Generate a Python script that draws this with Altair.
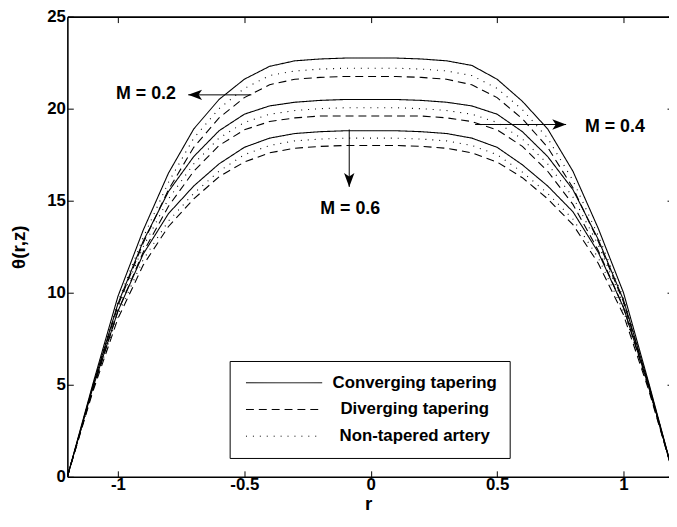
import altair as alt
import pandas as pd

R = [-1.2, -1.1, -1.0, -0.9, -0.8, -0.7, -0.6, -0.5, -0.4, -0.3, -0.2, -0.1, 0.0,
     0.1, 0.2, 0.3, 0.4, 0.5, 0.6, 0.7, 0.8, 0.9, 1.0, 1.1, 1.2]

conv02 = [0, 5.0, 9.8, 13.4, 16.5, 18.9, 20.5, 21.6, 22.3, 22.6, 22.7, 22.75, 22.75,
          22.75, 22.7, 22.6, 22.35, 21.6, 20.4, 18.9, 16.6, 13.5, 10.0, 5.1, 0]
non02 = [0, 4.9, 9.5, 13.0, 16.0, 18.4, 20.0, 21.1, 21.8, 22.05, 22.15, 22.2, 22.2,
         22.2, 22.15, 22.05, 21.8, 21.1, 19.95, 18.4, 16.1, 13.1, 9.7, 5.0, 0]
div02 = [0, 4.8, 9.3, 12.7, 15.6, 17.9, 19.5, 20.6, 21.3, 21.6, 21.7, 21.75, 21.75,
         21.75, 21.7, 21.6, 21.3, 20.6, 19.45, 17.9, 15.7, 12.8, 9.5, 4.9, 0]

conv04 = [0, 4.9, 9.4, 12.8, 15.5, 17.4, 18.8, 19.7, 20.15, 20.35, 20.45, 20.5, 20.5,
          20.5, 20.45, 20.35, 20.15, 19.7, 18.75, 17.4, 15.6, 12.9, 9.6, 5.0, 0]
non04 = [0, 4.8, 9.2, 12.5, 15.1, 17.0, 18.4, 19.25, 19.7, 19.9, 20.0, 20.05, 20.05,
         20.05, 20.0, 19.9, 19.7, 19.25, 18.35, 17.0, 15.2, 12.6, 9.4, 4.9, 0]
div04 = [0, 4.7, 9.0, 12.2, 14.7, 16.6, 18.0, 18.85, 19.3, 19.5, 19.6, 19.6, 19.6,
         19.6, 19.6, 19.5, 19.3, 18.85, 17.95, 16.6, 14.8, 12.3, 9.2, 4.8, 0]

conv06 = [0, 4.8, 9.0, 12.1, 14.3, 15.8, 17.0, 17.9, 18.4, 18.65, 18.75, 18.8, 18.8,
          18.8, 18.75, 18.65, 18.4, 17.9, 16.95, 15.8, 14.4, 12.2, 9.2, 4.9, 0]
non06 = [0, 4.7, 8.8, 11.8, 13.9, 15.4, 16.6, 17.5, 18.0, 18.25, 18.35, 18.4, 18.4,
         18.4, 18.35, 18.25, 18.0, 17.5, 16.55, 15.4, 14.0, 11.9, 9.0, 4.8, 0]
div06 = [0, 4.6, 8.6, 11.5, 13.6, 15.1, 16.3, 17.1, 17.6, 17.85, 17.95, 18.0, 18.0,
         18.0, 17.95, 17.85, 17.6, 17.1, 16.25, 15.1, 13.7, 11.6, 8.8, 4.7, 0]

TYPES = ["Converging tapering", "Diverging tapering", "Non-tapered artery"]
M_VALUES = ["0.2", "0.4", "0.6"]
TICKS_X = [-1, -0.5, 0, 0.5, 1]
TICKS_Y = [0, 5, 10, 15, 20, 25]

# annotations (data units)
ANN_LABELS = ["M = 0.2", "M = 0.4", "M = 0.6"]
ANN_TEXT_X = [-0.889, 0.966, -0.081]
ANN_TEXT_Y = [20.8, 18.98, 14.57]
ARROW_X0 = [-0.472, 0.413, -0.085]
ARROW_X1 = [-0.722, 0.773, -0.085]
ARROW_Y0 = [20.75, 19.14, 18.87]
ARROW_Y1 = [20.75, 19.14, 15.75]
ARROW_ANGLE = [180, 0, 90]

series = {
    ("0.2", TYPES[0]): conv02, ("0.2", TYPES[1]): div02, ("0.2", TYPES[2]): non02,
    ("0.4", TYPES[0]): conv04, ("0.4", TYPES[1]): div04, ("0.4", TYPES[2]): non04,
    ("0.6", TYPES[0]): conv06, ("0.6", TYPES[1]): div06, ("0.6", TYPES[2]): non06,
}
rows = []
for (m, t), vals in series.items():
    for r, v in zip(R, vals):
        rows.append({"r": r, "theta": v, "M": m, "type": t})
df = pd.DataFrame(rows)

ann = pd.DataFrame({
    "label": ANN_LABELS, "tx": ANN_TEXT_X, "ty": ANN_TEXT_Y,
    "x0": ARROW_X0, "x1": ARROW_X1, "y0": ARROW_Y0, "y1": ARROW_Y1,
    "ang": ARROW_ANGLE,
})

FONT = "Liberation Sans"
x_scale = alt.Scale(domain=[-1.2, 1.18], nice=False, zero=False)
y_scale = alt.Scale(domain=[0, 25], nice=False, zero=False)

common_axis = dict(
    grid=False, domainColor="black", domainWidth=1.6, tickColor="black",
    tickWidth=1, labelFont=FONT, labelFontSize=17, labelFontWeight="bold",
    labelColor="black", titleFont=FONT, titleFontSize=19, titleFontWeight="bold",
    titleColor="black",
)

x_bottom = alt.Axis(orient="bottom", values=TICKS_X, labelExpr="'' + datum.value",
                    title="r", tickSize=alt.ExprRef("-6"), labelPadding=6,
                    titlePadding=2, **common_axis)
y_left = alt.Axis(orient="left", values=TICKS_Y, title="θ(r,z)",
                  tickSize=alt.ExprRef("-6"), labelPadding=8, titlePadding=18,
                  **common_axis)
x_top = alt.Axis(orient="top", values=TICKS_X, labels=False, title=None,
                 tickSize=alt.ExprRef("-6"), **common_axis)
y_right = alt.Axis(orient="right", values=TICKS_Y, labels=False, title=None,
                   domain=False, tickSize=alt.ExprRef("-2"), **common_axis)

legend = alt.Legend(
    title=None, orient="none", legendX=164, legendY=348, symbolType="stroke",
    symbolSize=5929, symbolStrokeWidth=1, symbolStrokeColor="black",
    labelFont=FONT, labelFontSize=17, labelFontWeight="bold", labelColor="black",
    labelAlign="center", labelOffset=93, labelLimit=400,
    strokeColor="black", fillColor="white", padding=12,
    clipHeight=20, rowPadding=7, symbolOffset=4,
)

lines = alt.Chart(df).mark_line(clip=True, strokeWidth=1.1, color="black").encode(
    x=alt.X("r:Q", scale=x_scale, axis=x_bottom),
    y=alt.Y("theta:Q", scale=y_scale, axis=y_left),
    strokeDash=alt.StrokeDash("type:N", scale=alt.Scale(domain=TYPES, range=[[1, 0], [8, 5], [1, 6]]),
                              legend=legend),
    detail="M:N",
)

shafts = alt.Chart(ann).mark_rule(color="black", strokeWidth=1).encode(
    x=alt.X("x0:Q", scale=x_scale, axis=x_top),
    x2="x1:Q",
    y=alt.Y("y0:Q", scale=y_scale, axis=y_right),
    y2="y1:Q",
)

HEAD = "M0,0 L-2,-0.75 L-1.5,0 L-2,0.75 Z"
heads = alt.Chart(ann).mark_point(shape=HEAD, filled=True, fill="black", size=196,
                                  strokeWidth=0, opacity=1).encode(
    x=alt.X("x1:Q", scale=x_scale, axis=None),
    y=alt.Y("y1:Q", scale=y_scale, axis=None),
    angle=alt.Angle("ang:Q", scale=None),
)

texts = alt.Chart(ann).mark_text(font=FONT, fontSize=18, fontWeight="bold", color="black",
                                 align="center", baseline="middle").encode(
    x=alt.X("tx:Q", scale=x_scale, axis=None),
    y=alt.Y("ty:Q", scale=y_scale, axis=None),
    text="label:N",
)

chart = alt.layer(lines, shafts, heads, texts).properties(
    width=608, height=465,
    padding={"left": 60, "top": 6, "right": 0, "bottom": 46},
    autosize=alt.AutoSizeParams(type="none"),
    background="white",
).configure_view(stroke=None)

chart.save("out.html", embed_options={"renderer": "svg", "actions": False})
